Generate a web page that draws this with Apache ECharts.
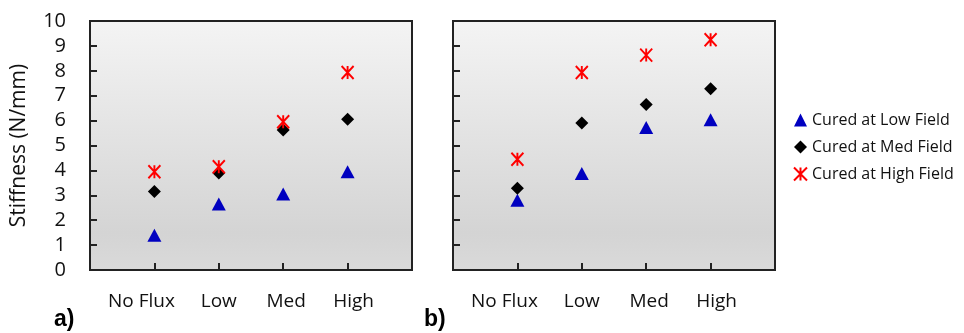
<!DOCTYPE html>
<html><head><meta charset="utf-8">
<script src="https://cdn.jsdelivr.net/npm/echarts@6/dist/echarts.min.js"></script>
<style>html,body{margin:0;padding:0;background:#fff}#c{width:964px;height:333px}</style>
</head><body><div id="c"></div>
<script>
const categories = ['No Flux', 'Low', 'Med', 'High'];
const seriesNames = ['Cured at Low Field', 'Cured at Med Field', 'Cured at High Field'];
const yTicks = [0,1,2,3,4,5,6,7,8,9,10];
// panel a)
const aLow  = [1.4, 2.65, 3.05, 3.95];
const aMed  = [3.15, 3.9, 5.62, 6.05];
const aHigh = [3.95, 4.15, 5.95, 7.93];
// panel b)
const bLow  = [2.8, 3.88, 5.72, 6.03];
const bMed  = [3.28, 5.9, 6.65, 7.28];
const bHigh = [4.45, 7.93, 8.63, 9.25];

const chart = echarts.init(document.getElementById('c'));
const font = '"Open Sans", sans-serif';
const ink = '#111';
const bg = {type:'linear',x:0,y:0,x2:0,y2:1,colorStops:[{offset:0,color:'#f4f4f4'},{offset:0.85,color:'#d4d4d4'},{offset:1,color:'#dadada'}]};
const pts = arr => arr.map((v,i)=>[i+1, v]);
const styles = [
  {symbol:'triangle', symbolSize:[14,13], itemStyle:{color:'#0000c0', opacity:1}},
  {symbol:'diamond', symbolSize:[13,13], itemStyle:{color:'#000', opacity:1}},
  {symbol:'path://M0,0L10,10M10,0L0,10M5,0L5,10', symbolSize:[12,13], itemStyle:{color:'rgba(0,0,0,0)', borderColor:'#ff0000', borderWidth:2, opacity:1}}
];
const labelRich = {
  c0:{fontFamily:font, fontSize:19, color:ink, padding:[0,26,0,0]},
  c1:{fontFamily:font, fontSize:19, color:ink},
  c2:{fontFamily:font, fontSize:19, color:ink, padding:[0,0,0,6]},
  c3:{fontFamily:font, fontSize:19, color:ink, padding:[0,0,0,12]}
};
function xAxis(gi){
  return {type:'value', gridIndex:gi, min:0, max:5, interval:1,
    axisLine:{show:true, lineStyle:{color:'#222', width:2}},
    axisTick:{show:true, inside:true, length:7, lineStyle:{color:'#222', width:2}},
    axisLabel:{margin:22, fontFamily:font, fontSize:19, color:ink, rich:labelRich,
      formatter: v => (v>=1 && v<=4) ? '{c'+(v-1)+'|'+categories[v-1]+'}' : ''},
    splitLine:{show:false}};
}
function yAxis(gi, showLabels){
  return {type:'value', gridIndex:gi, min:yTicks[0], max:yTicks[yTicks.length-1], interval:1,
    name: showLabels ? 'Stiffness (N/mm)' : '', nameLocation:'middle', nameGap:60,
    nameTextStyle:{fontFamily:font, fontSize:21, color:ink},
    axisLine:{show:true, lineStyle:{color:'#222', width:2}},
    axisTick:{show:true, inside:true, length:7, lineStyle:{color:'#222', width:2}},
    axisLabel:{show:showLabels, margin:24, fontFamily:font, fontSize:20, color:ink},
    splitLine:{show:false}};
}
const data = [[aLow,aMed,aHigh],[bLow,bMed,bHigh]];
const series = [];
data.forEach((panel, gi) => {
  panel.forEach((arr, si) => {
    series.push(Object.assign({type:'scatter', name:seriesNames[si], xAxisIndex:gi, yAxisIndex:gi, data:pts(arr), z:3+si}, styles[si]));
  });
});
chart.setOption({
  animation:false,
  backgroundColor:'#fff',
  grid:[
    {left:90, top:21, width:322, height:249, show:true, backgroundColor:bg, borderColor:'#222', borderWidth:2},
    {left:453, top:21, width:322, height:249, show:true, backgroundColor:bg, borderColor:'#222', borderWidth:2}
  ],
  xAxis:[xAxis(0), xAxis(1)],
  yAxis:[yAxis(0,true), yAxis(1,false)],
  legend:{orient:'vertical', left:788, top:107, itemGap:11, itemWidth:13, itemHeight:13,
    textStyle:{fontFamily:font, fontSize:16, color:ink}, data:seriesNames},
  graphic:[
    {type:'text', left:54, top:308, style:{text:'a)', font:'bold 23px "Liberation Sans", Arial, sans-serif', fill:'#000'}},
    {type:'text', left:424, top:308, style:{text:'b)', font:'bold 23px "Liberation Sans", Arial, sans-serif', fill:'#000'}}
  ],
  series
});
</script></body></html>
